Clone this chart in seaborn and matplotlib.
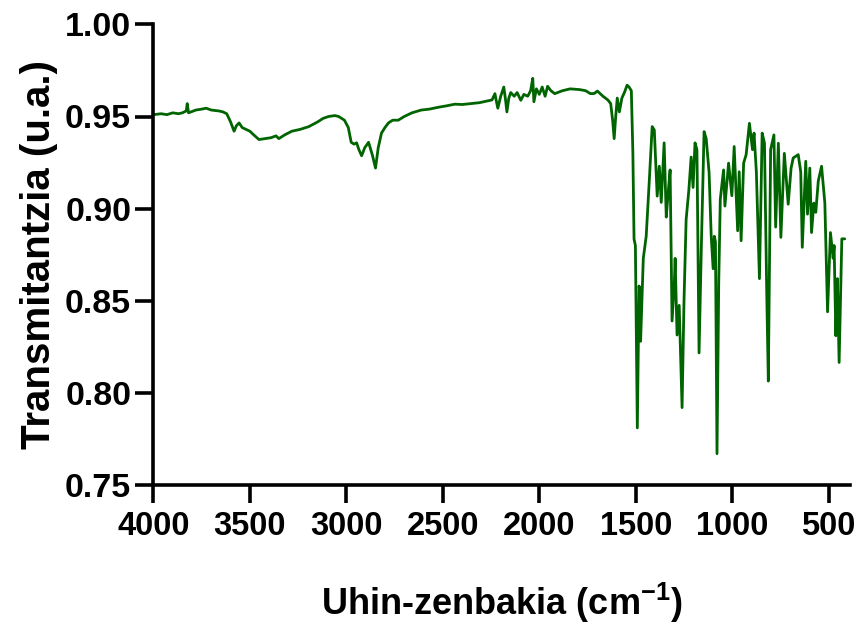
import matplotlib
matplotlib.use("Agg")
import matplotlib.pyplot as plt
import numpy as np
import pandas as pd
import seaborn as sns

# IR spectrum (wavenumber in cm-1, transmittance)
wavenumber = [
    4000, 3960, 3930, 3900, 3870, 3850, 3830, 3825, 3818, 3780, 3750, 3727, 3700,
    3660, 3640, 3620, 3600, 3582, 3570, 3556, 3540, 3520, 3500, 3480, 3453, 3420,
    3390, 3365, 3350, 3320, 3283, 3240, 3195, 3150, 3120, 3092, 3060, 3040, 3010,
    2990, 2975, 2960, 2947, 2935, 2921, 2905, 2885, 2865, 2849, 2835, 2818, 2800,
    2782, 2760, 2731, 2700, 2660, 2612, 2570, 2524, 2480, 2437, 2400, 2354, 2310,
    2266, 2245, 2230, 2222, 2215, 2200, 2184, 2175, 2168, 2158, 2148, 2130, 2115,
    2096, 2080, 2060, 2045, 2034, 2028, 2015, 2000, 1985, 1970, 1957, 1940, 1920,
    1880, 1840, 1791, 1760, 1735, 1715, 1699, 1670, 1645, 1630, 1620, 1612, 1604,
    1596, 1585, 1572, 1559, 1545, 1535, 1523, 1515, 1509, 1502, 1492, 1483, 1478,
    1475, 1468, 1461, 1446, 1430, 1415, 1404, 1389, 1378, 1368, 1353, 1342, 1332,
    1322, 1312, 1300, 1296, 1286, 1275, 1260, 1250, 1239, 1225, 1213, 1203, 1193,
    1183, 1172, 1160, 1146, 1135, 1120, 1109, 1099, 1093, 1087, 1079, 1070, 1062,
    1045, 1038, 1019, 1002, 990, 972, 964, 954, 941, 928, 911, 895, 887, 875, 859,
    845, 833, 821, 813, 801, 784, 775, 761, 748, 730, 710, 695, 684, 658, 645, 637,
    619, 610, 598, 589, 577, 567, 554, 537, 520, 506, 491, 477, 472, 463, 455, 446,
    432, 417,
]
transmittance = [
    0.951, 0.9515, 0.951, 0.952, 0.9515, 0.952, 0.953, 0.957, 0.952, 0.9535, 0.954, 0.9545, 0.9535,
    0.953, 0.9525, 0.9515, 0.947, 0.942, 0.945, 0.9465, 0.944, 0.943, 0.942, 0.940, 0.9375, 0.938,
    0.9385, 0.9395, 0.938, 0.940, 0.942, 0.943, 0.9445, 0.947, 0.949, 0.950, 0.9505, 0.950, 0.948,
    0.944, 0.936, 0.935, 0.9357, 0.932, 0.9287, 0.933, 0.936, 0.929, 0.922, 0.933, 0.941, 0.944,
    0.9465, 0.948, 0.948, 0.950, 0.952, 0.9535, 0.954, 0.955, 0.9558, 0.9567, 0.9565, 0.957, 0.9575,
    0.9585, 0.959, 0.9624, 0.958, 0.9545, 0.961, 0.966, 0.959, 0.9525, 0.960, 0.963, 0.961, 0.963,
    0.9588, 0.962, 0.961, 0.964, 0.9707, 0.958, 0.965, 0.962, 0.966, 0.961, 0.9664, 0.964, 0.9624,
    0.964, 0.965, 0.9646, 0.964, 0.9624, 0.9625, 0.9638, 0.961, 0.959, 0.957, 0.948, 0.938, 0.950,
    0.960, 0.9525, 0.960, 0.963, 0.967, 0.966, 0.964, 0.930, 0.8835, 0.880, 0.781, 0.858, 0.855,
    0.828, 0.850, 0.873, 0.885, 0.915, 0.9445, 0.9427, 0.9068, 0.923, 0.9034, 0.9357, 0.8954, 0.9088,
    0.921, 0.839, 0.860, 0.873, 0.8314, 0.8475, 0.792, 0.850, 0.894, 0.910, 0.928, 0.9115, 0.9357,
    0.932, 0.8217, 0.880, 0.9418, 0.938, 0.9196, 0.885, 0.8674, 0.885, 0.882, 0.767, 0.860, 0.905,
    0.921, 0.9014, 0.9247, 0.907, 0.9337, 0.888, 0.920, 0.8826, 0.9247, 0.9293, 0.9463, 0.932, 0.941, 0.920, 0.862,
    0.941, 0.9355, 0.853, 0.8064, 0.932, 0.940, 0.890, 0.9355, 0.8844, 0.930, 0.9024, 0.922, 0.9275, 0.9293, 0.920, 0.879,
    0.9257, 0.897, 0.922, 0.887, 0.903, 0.898, 0.915, 0.923, 0.903, 0.844, 0.887, 0.873, 0.880, 0.831, 0.862, 0.8165,
    0.8836, 0.8836,
]
x_ticks = [4000, 3500, 3000, 2500, 2000, 1500, 1000, 500]
y_ticks = [0.75, 0.80, 0.85, 0.90, 0.95, 1.00]

df = pd.DataFrame({"wavenumber": wavenumber, "T": transmittance})

sns.set_style("ticks")
plt.rcParams["font.family"] = ["Liberation Sans", "DejaVu Sans"]
plt.rcParams["font.weight"] = "bold"
plt.rcParams["text.color"] = "black"
plt.rcParams["axes.labelcolor"] = "black"
plt.rcParams["xtick.color"] = "black"
plt.rcParams["ytick.color"] = "black"
plt.rcParams["mathtext.fontset"] = "custom"
plt.rcParams["mathtext.rm"] = "Liberation Sans:bold"
plt.rcParams["mathtext.bf"] = "Liberation Sans:bold"

fig = plt.figure(figsize=(8.62, 6.25), dpi=100)
ax = fig.add_axes([0.178, 0.224, 0.808, 0.737])

sns.lineplot(data=df, x="wavenumber", y="T", ax=ax, color="#006400",
             linewidth=2.0, sort=False, estimator=None)

ax.set_xlim(4000, 390)
ax.set_ylim(0.75, 1.00)
ax.set_xticks(x_ticks)
ax.set_yticks(y_ticks)
ax.set_yticklabels([f"{v:.2f}" for v in y_ticks], fontsize=24.5, fontweight="bold")
ax.set_xticklabels([str(v) for v in x_ticks], fontsize=23.5, fontweight="bold")

for side in ["top", "right"]:
    ax.spines[side].set_visible(False)
for side in ["left", "bottom"]:
    ax.spines[side].set_linewidth(2.6)
    ax.spines[side].set_color("black")
ax.tick_params(axis="both", direction="out", length=13, width=2.6, color="black")
ax.tick_params(axis="x", pad=6)
ax.tick_params(axis="y", pad=3)

ax.set_ylabel("Transmitantzia (u.a.)", fontsize=29, fontweight="bold", labelpad=5)
ax.set_xlabel(r"Uhin-zenbakia (cm$^{\mathbf{-1}}$)", fontsize=26, fontweight="bold",
              labelpad=28)

fig.savefig("out.png", dpi=100)
plt.close(fig)
